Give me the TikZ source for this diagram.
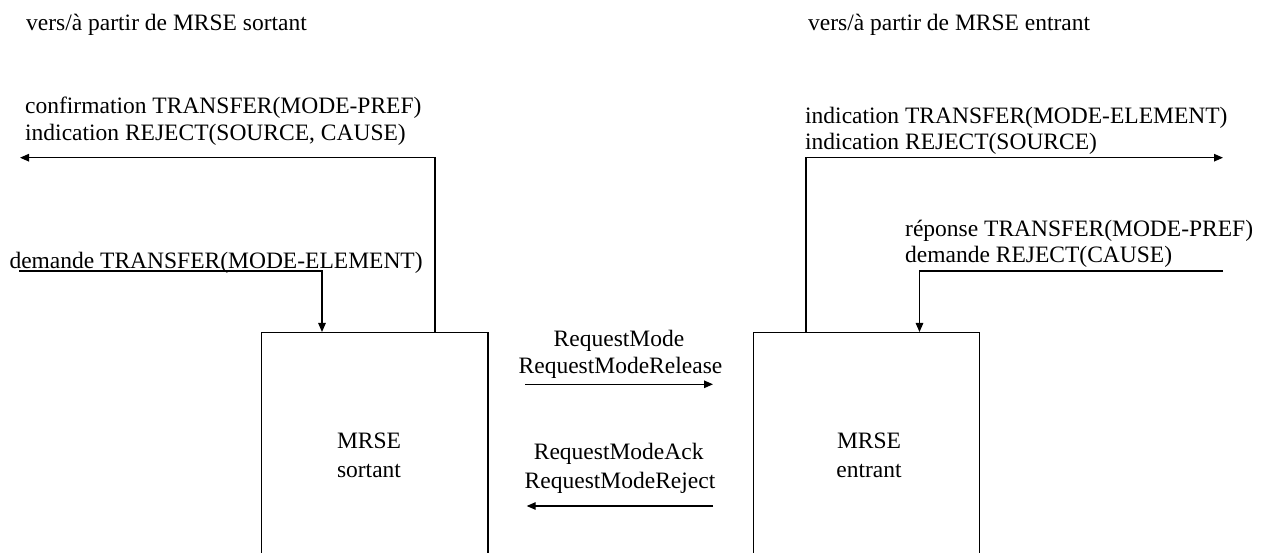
\documentclass[tikz,border=0pt]{standalone}
\usepackage{fontspec}
\setmainfont{Liberation Serif}
\usetikzlibrary{arrows.meta}
\begin{document}
\begin{tikzpicture}[x=1pt,y=-1pt,
  every node/.style={font=\fontsize{23.5}{27}\selectfont, inner sep=0pt},
  txt/.style={anchor=base west},
  ctxt/.style={anchor=base},
  box/.style={draw, line width=1.2pt, minimum width=226.5pt, minimum height=260pt, anchor=north},
  conn/.style={line width=1.2pt, -{Triangle[length=9pt,width=7.5pt]}}]
\useasboundingbox (0,0) rectangle (1262,553);

% headings
\node[txt] (h1) at (26,30.7) {vers/à partir de MRSE sortant};
\node[txt] (h2) at (808,30.7) {vers/à partir de MRSE entrant};

% boxes
\node[box] (boxL) at (374.75,332) {};
\node[box] (boxR) at (866.5,332) {};
\node[ctxt] (lblL1) at (369,448) {MRSE};
\node[ctxt] (lblL2) at (369,477) {sortant};
\node[ctxt] (lblR1) at (869,448) {MRSE};
\node[ctxt] (lblR2) at (869,477) {entrant};

% left side texts
\node[txt] (l1) at (25,113.5) {confirmation TRANSFER(MODE-PREF)};
\node[txt] (l2) at (25,141) {indication REJECT(SOURCE, CAUSE)};
\node[txt] (d1) at (9.3,268.3) {demande TRANSFER(MODE-ELEMENT)};

% right side texts
\node[txt] (r1) at (805,123.5) {indication TRANSFER(MODE-ELEMENT)};
\node[txt] (r2) at (805,150) {indication REJECT(SOURCE)};
\node[txt] (r3) at (905,236.7) {réponse TRANSFER(MODE-PREF)};
\node[txt] (r4) at (905,263) {demande REJECT(CAUSE)};

% middle texts
\node[ctxt] (m1) at (619,346.7) {RequestMode};
\node[ctxt] (m2) at (620.5,373.3) {RequestModeRelease};
\node[ctxt] (m3) at (618.7,460) {RequestModeAck};
\node[ctxt] (m4) at (620,488) {RequestModeReject};

% connector end points
\coordinate (loutS) at (435,332);
\coordinate (loutE) at (20,157.7);
\coordinate (dinS) at (19,271);
\coordinate (dinE) at (322,332);
\coordinate (routS) at (806,332);
\coordinate (routE) at (1223,157.7);
\coordinate (rinS) at (1223,271);
\coordinate (rinE) at (919.5,332);
\coordinate (reqS) at (525,384.3);
\coordinate (reqE) at (713,384.3);
\coordinate (ackS) at (713,506);
\coordinate (ackE) at (526.7,506);

\draw[conn] (loutS) |- (loutE);
\draw[conn] (dinS) -| (dinE);
\draw[conn] (routS) |- (routE);
\draw[conn] (rinS) -| (rinE);
\draw[conn] (reqS) -- (reqE);
\draw[conn] (ackS) -- (ackE);
\end{tikzpicture}
\end{document}
